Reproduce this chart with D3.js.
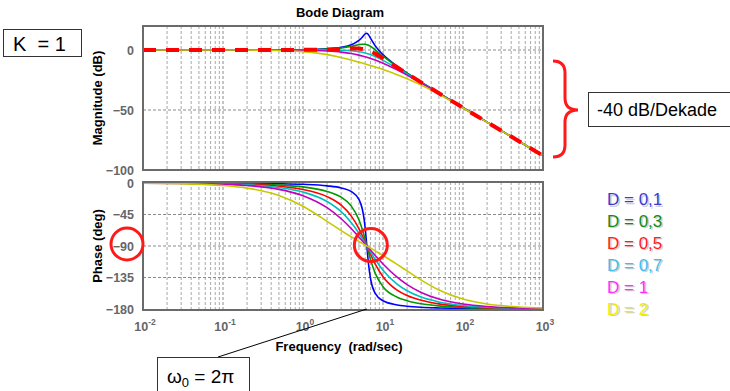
<!DOCTYPE html>
<html>
<head>
<meta charset="utf-8">
<script src="https://cdn.jsdelivr.net/npm/d3@7"></script>
<style>
  body { margin: 0; background: #fff; }
  svg { display: block; font-family: "Liberation Sans", Arial, sans-serif; }
</style>
</head>
<body>
<script>
const freq = [0.01, 0.03, 0.1, 0.2, 0.5, 1, 2, 3, 4, 5, 5.5, 5.8, 6, 6.28, 6.6, 7, 8, 10, 15, 20, 30, 50, 100, 200, 500, 1000];

// magnitude (dB)
const magD01 = [0, 0, 0, 0, 0.05, 0.21, 0.9, 2.18, 4.32, 7.98, 10.7, 12.52, 13.5, 14.0, 12.61, 9.67, 3.46, -3.9, -13.5, -19.2, -26.8, -35.9, -48.0, -60.1, -76.0, -88.1];
const magD03 = [0, 0, 0, 0, 0.05, 0.18, 0.73, 1.69, 3.01, 4.41, 4.80, 4.83, 4.74, 4.44, 3.89, 2.98, 0.13, -5.13, -13.8, -19.4, -26.8, -35.9, -48.0, -60.1, -76.0, -88.1];
const magD05 = [0, 0, 0, 0, 0.03, 0.10, 0.41, 0.84, 1.20, 1.15, 0.86, 0.59, 0.36, 0, -0.47, -1.14, -3.03, -6.88, -14.4, -19.7, -27.0, -36.0, -48.1, -60.1, -76.0, -88.1];
const magD07 = [0, 0, 0, 0, 0, 0, -0.03, -0.18, -0.60, -1.39, -1.92, -2.28, -2.54, -2.92, -3.37, -3.96, -5.52, -8.64, -15.2, -20.1, -27.2, -36.0, -48.1, -60.1, -76.0, -88.1];
const magD1  = [0, 0, 0, -0.01, -0.06, -0.22, -0.84, -1.78, -2.95, -4.27, -4.94, -5.35, -5.63, -6.02, -6.46, -7.01, -8.37, -10.96, -16.52, -20.93, -27.53, -36.16, -48.1, -60.1, -76.0, -88.1];
const magD2  = [0, 0, -0.01, -0.06, -0.37, -1.32, -3.85, -6.28, -8.35, -10.12, -10.90, -11.35, -11.64, -12.04, -12.47, -12.99, -14.20, -16.32, -20.54, -23.90, -29.24, -36.9, -48.3, -60.17, -76.0, -88.1];

// phase (deg)
const phaseD01 = [-0.02, -0.05, -0.18, -0.36, -0.92, -1.87, -4.05, -7.04, -12.1, -23.5, -36.8, -51.3, -65.3, -90, -116.2, -137.2, -157.7, -168.3, -174.2, -176.0, -177.5, -178.5, -179.3, -179.6, -179.86, -179.93];
const phaseD03 = [-0.05, -0.16, -0.55, -1.09, -2.75, -5.59, -12.0, -20.3, -32.7, -52.6, -66.0, -75.1, -81.3, -90, -99.3, -109.8, -129.1, -148.1, -163.1, -168.2, -172.5, -175.6, -177.8, -178.9, -179.57, -179.78];
const phaseD05 = [-0.09, -0.27, -0.91, -1.82, -4.58, -9.27, -19.5, -31.7, -47.0, -65.3, -75.0, -80.9, -84.7, -90, -95.6, -102.2, -116.0, -133.9, -153.1, -160.8, -167.6, -172.7, -176.4, -178.2, -179.28, -179.64];
const phaseD07 = [-0.13, -0.38, -1.28, -2.55, -6.4, -12.9, -26.4, -40.9, -56.3, -71.8, -79.2, -83.5, -86.2, -90, -94.0, -98.8, -109.2, -124.5, -144.6, -154.0, -163.0, -169.9, -174.95, -177.5, -178.99, -179.5];
const phaseD1  = [-0.18, -0.55, -1.82, -3.65, -9.1, -18.1, -35.3, -51.1, -64.9, -77.1, -82.4, -85.4, -87.4, -90, -92.8, -96.2, -103.7, -115.7, -134.5, -145.1, -156.3, -165.7, -172.8, -176.4, -178.56, -179.28];
const phaseD2  = [-0.36, -1.09, -3.65, -7.27, -17.8, -33.2, -54.8, -68.0, -76.8, -83.4, -86.2, -87.7, -88.7, -90, -91.4, -93.1, -97.0, -103.5, -116.2, -125.6, -138.8, -152.9, -165.8, -172.8, -177.1, -178.56];

const dampingLabels = ['D = 0,1', 'D = 0,3', 'D = 0,5', 'D = 0,7', 'D = 1', 'D = 2'];
const magTicks = [-100, -50, 0];
const phaseTicks = [-180, -135, -90, -45, 0];
const decadeExps = [-2, -1, 0, 1, 2, 3];

const lineColors = ['#0000ff', '#009a00', '#ff0000', '#00bfbf', '#bf00bf', '#c8c800'];
const legendColors = ['#3c3cd2', '#168c16', '#ff2020', '#40c0f0', '#ff30ff', '#eeee00'];

function main() {
  const width = 730;
  const height = 391;

  const series = dampingLabels.map((label, i) => ({
    label,
    mag: [magD01, magD03, magD05, magD07, magD1, magD2][i],
    phase: [phaseD01, phaseD03, phaseD05, phaseD07, phaseD1, phaseD2][i],
    color: lineColors[i],
  }));

  const x = d3.scaleLog().domain([0.01, 1000]).range([143, 543]);
  const yMag = d3.scaleLinear().domain([-100, 20]).range([170, 26]);
  const yPh = d3.scaleLinear().domain([-180, 0]).range([309, 183]);

  const svg = d3.create("svg")
    .attr("width", width)
    .attr("height", height);

  const gridX = x.ticks().filter(t => t > 0.0101 && t < 999);
  const isDecade = t => Math.abs(Math.log10(t) - Math.round(Math.log10(t))) < 1e-6;

  function panel(y, top, bottom, gridY, id) {
    const g = svg.append("g");
    g.append("clipPath").attr("id", id)
      .append("rect")
      .attr("x", x.range()[0]).attr("y", top)
      .attr("width", x.range()[1] - x.range()[0]).attr("height", bottom - top);
    g.append("g")
      .attr("stroke-dasharray", "3,2")
      .selectAll("line")
      .data(gridX)
      .join("line")
      .attr("stroke", d => isDecade(d) ? "#8a8a8a" : "#a8a8a8")
      .attr("x1", d => x(d)).attr("x2", d => x(d))
      .attr("y1", top).attr("y2", bottom);
    g.append("g")
      .attr("stroke", "#8a8a8a")
      .attr("stroke-dasharray", "3,2")
      .selectAll("line")
      .data(gridY)
      .join("line")
      .attr("x1", x.range()[0]).attr("x2", x.range()[1])
      .attr("y1", d => y(d)).attr("y2", d => y(d));
    return g;
  }

  function frame(top, bottom) {
    svg.append("rect")
      .attr("x", x.range()[0]).attr("y", top)
      .attr("width", x.range()[1] - x.range()[0]).attr("height", bottom - top)
      .attr("fill", "none")
      .attr("stroke", "#6b6b6b")
      .attr("stroke-width", 2);
  }

  // magnitude panel
  const magTop = yMag(20), magBottom = yMag(-100);
  const gMag = panel(yMag, magTop, magBottom, [-50, 0], "clipMag");
  const magLine = d3.line()
    .x((d, i) => x(freq[i]))
    .y(d => yMag(d))
    .curve(d3.curveMonotoneX);
  const magCurves = gMag.append("g").attr("clip-path", "url(#clipMag)").attr("fill", "none");
  series.forEach((s, i) => {
    if (i === 2) return;
    magCurves.append("path")
      .attr("d", magLine(s.mag))
      .attr("stroke", s.color)
      .attr("stroke-width", 1.6);
  });
  magCurves.append("path")
    .attr("d", magLine(series[2].mag))
    .attr("stroke", series[2].color)
    .attr("stroke-width", 4)
    .attr("stroke-dasharray", "13,10");
  frame(magTop, magBottom);

  // phase panel
  const phTop = yPh(0) - 1, phBottom = yPh(-180) + 1;
  const gPh = panel(yPh, phTop, phBottom, [-135, -90, -45], "clipPh");
  const phLine = d3.line()
    .x((d, i) => x(freq[i]))
    .y(d => yPh(d))
    .curve(d3.curveMonotoneX);
  const phCurves = gPh.append("g").attr("clip-path", "url(#clipPh)").attr("fill", "none");
  series.forEach(s => {
    phCurves.append("path")
      .attr("d", phLine(s.phase))
      .attr("stroke", s.color)
      .attr("stroke-width", 1.6);
  });
  frame(phTop, phBottom);

  // y tick labels
  svg.append("g")
    .attr("transform", `translate(${x.range()[0]},0)`)
    .call(d3.axisLeft(yMag).tickValues(magTicks).tickSize(0).tickPadding(9))
    .call(g => g.select(".domain").remove());
  svg.append("g")
    .attr("transform", `translate(${x.range()[0]},0)`)
    .call(d3.axisLeft(yPh).tickValues(phaseTicks).tickSize(0).tickPadding(9))
    .call(g => g.select(".domain").remove());
  svg.selectAll(".tick text")
    .attr("font-family", '"Liberation Sans", Arial, sans-serif')
    .attr("font-size", 12.5)
    .attr("font-weight", "bold")
    .attr("fill", "#666");

  // x tick labels 10^n
  const xt = svg.append("g")
    .attr("font-size", 12.5)
    .attr("font-weight", "bold")
    .attr("fill", "#666")
    .attr("text-anchor", "middle")
    .selectAll("text")
    .data(decadeExps)
    .join("text")
    .attr("x", d => x(Math.pow(10, d)) + 2)
    .attr("y", 331);
  xt.append("tspan").text("10");
  xt.append("tspan").attr("dy", -6).attr("font-size", 8.5).text(d => d < 0 ? "-" + (-d) : d);

  // titles
  svg.append("text")
    .attr("x", 340).attr("y", 17)
    .attr("text-anchor", "middle")
    .attr("font-size", 13).attr("font-weight", "bold")
    .text("Bode Diagram");
  svg.append("text")
    .attr("transform", `translate(102,${(magTop + magBottom) / 2}) rotate(-90)`)
    .attr("text-anchor", "middle")
    .attr("font-size", 13).attr("font-weight", "bold")
    .text("Magnitude (dB)");
  svg.append("text")
    .attr("transform", `translate(102,${(phTop + phBottom) / 2}) rotate(-90)`)
    .attr("text-anchor", "middle")
    .attr("font-size", 13).attr("font-weight", "bold")
    .text("Phase (deg)");
  svg.append("text")
    .attr("x", 339).attr("y", 351)
    .attr("text-anchor", "middle")
    .attr("font-size", 13).attr("font-weight", "bold")
    .attr("xml:space", "preserve")
    .text("Frequency  (rad/sec)");

  // legend with shadow
  const legend = svg.append("g").attr("font-size", 17);
  dampingLabels.forEach((label, i) => {
    const yy = 205 + i * 21.9;
    legend.append("text").attr("x", 608.5).attr("y", yy + 1.5).attr("fill", "#d0d0d0").text(label);
    legend.append("text").attr("x", 607).attr("y", yy).attr("fill", legendColors[i]).text(label);
  });

  // annotations
  svg.append("rect")
    .attr("x", 3.5).attr("y", 29.5).attr("width", 78).attr("height", 27)
    .attr("fill", "#fff").attr("stroke", "#333").attr("stroke-width", 1);
  svg.append("text")
    .attr("x", 13).attr("y", 50.5)
    .attr("font-size", 20)
    .attr("xml:space", "preserve")
    .text("K  = 1");

  svg.append("path")
    .attr("d", "M553,61 Q565,61 565,73 L565,98 Q565,110 578,110 Q565,110 565,122 L565,145 Q565,157 553,157")
    .attr("fill", "none").attr("stroke", "#ff1a1a").attr("stroke-width", 3);
  svg.append("rect")
    .attr("x", 588.5).attr("y", 92.5).attr("width", 145).attr("height", 34)
    .attr("fill", "#fff").attr("stroke", "#333").attr("stroke-width", 1);
  svg.append("text")
    .attr("x", 597).attr("y", 116)
    .attr("font-size", 18)
    .text("-40 dB/Dekade");

  // red circles at -90 deg
  svg.append("circle")
    .attr("cx", 127).attr("cy", yPh(-90) - 2).attr("r", 16)
    .attr("fill", "none").attr("stroke", "#ff1a1a").attr("stroke-width", 3);
  svg.append("circle")
    .attr("cx", x(6.28) + 4).attr("cy", yPh(-90) - 1).attr("r", 16.5)
    .attr("fill", "none").attr("stroke", "#ff1a1a").attr("stroke-width", 3);

  // omega_0 callout
  svg.append("line")
    .attr("x1", 218).attr("y1", 357)
    .attr("x2", x(6.28)).attr("y2", yPh(-180))
    .attr("stroke", "#000").attr("stroke-width", 1);
  svg.append("rect")
    .attr("x", 157.5).attr("y", 357.5).attr("width", 92).attr("height", 40)
    .attr("fill", "#fff").attr("stroke", "#333").attr("stroke-width", 1);
  const w0 = svg.append("text")
    .attr("x", 167).attr("y", 383)
    .attr("font-size", 19)
    .attr("xml:space", "preserve");
  w0.append("tspan").text("ω");
  w0.append("tspan").attr("dy", 4).attr("font-size", 13).text("0");
  w0.append("tspan").attr("dy", -4).text(" = 2π");

  document.body.appendChild(svg.node());
}

main();
</script>
</body>
</html>
